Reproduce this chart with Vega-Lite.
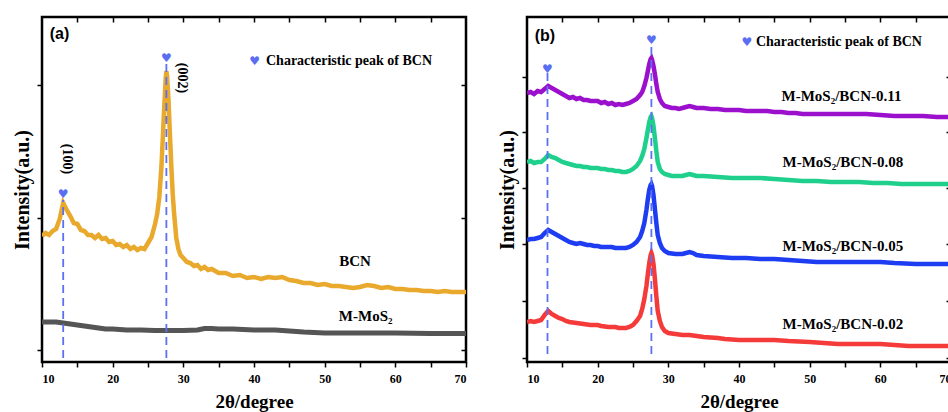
{
  "$schema": "https://vega.github.io/schema/vega-lite/v6.json",
  "bounds": "flush",
  "spacing": 61,
  "padding": {"left": 11, "top": 15, "right": 0, "bottom": 0},
  "background": "white",
  "config": {
    "view": {"stroke": "black", "strokeWidth": 2.5},
    "axis": {
      "grid": false, "domain": false, "tickColor": "black", "tickWidth": 1.5,
      "labelFont": "Liberation Serif", "labelFontWeight": "bold", "labelFontSize": 12, "labelColor": "black",
      "titleFont": "Liberation Serif", "titleFontWeight": "bold", "titleFontSize": 20, "titleColor": "black"
    }
  },
  "datasets": {
    "a": [
      {"x":10,"y":126,"s":"BCN"},{"x":10.5,"y":129,"s":"BCN"},{"x":11,"y":127,"s":"BCN"},{"x":11.5,"y":131,"s":"BCN"},{"x":12,"y":133,"s":"BCN"},{"x":12.5,"y":143,"s":"BCN"},{"x":13,"y":159,"s":"BCN"},{"x":13.5,"y":152,"s":"BCN"},{"x":14,"y":146,"s":"BCN"},{"x":14.5,"y":139,"s":"BCN"},{"x":15,"y":138,"s":"BCN"},{"x":15.5,"y":132,"s":"BCN"},{"x":16,"y":131,"s":"BCN"},{"x":16.5,"y":127,"s":"BCN"},{"x":17,"y":127,"s":"BCN"},{"x":17.5,"y":124,"s":"BCN"},{"x":18,"y":127,"s":"BCN"},{"x":18.5,"y":123,"s":"BCN"},{"x":19,"y":124,"s":"BCN"},{"x":19.5,"y":120,"s":"BCN"},{"x":20,"y":121,"s":"BCN"},{"x":20.5,"y":117,"s":"BCN"},{"x":21,"y":118,"s":"BCN"},{"x":21.5,"y":115,"s":"BCN"},{"x":22,"y":117,"s":"BCN"},{"x":22.5,"y":113,"s":"BCN"},{"x":23,"y":115,"s":"BCN"},{"x":23.5,"y":112,"s":"BCN"},{"x":24,"y":114,"s":"BCN"},{"x":24.5,"y":113,"s":"BCN"},{"x":25,"y":119,"s":"BCN"},{"x":25.5,"y":125,"s":"BCN"},{"x":26,"y":138,"s":"BCN"},{"x":26.3,"y":148,"s":"BCN"},{"x":26.6,"y":165,"s":"BCN"},{"x":26.9,"y":195,"s":"BCN"},{"x":27.1,"y":225,"s":"BCN"},{"x":27.3,"y":255,"s":"BCN"},{"x":27.5,"y":283,"s":"BCN"},{"x":27.6,"y":291,"s":"BCN"},{"x":27.7,"y":286,"s":"BCN"},{"x":27.9,"y":262,"s":"BCN"},{"x":28.1,"y":228,"s":"BCN"},{"x":28.3,"y":196,"s":"BCN"},{"x":28.5,"y":168,"s":"BCN"},{"x":28.7,"y":148,"s":"BCN"},{"x":29,"y":124,"s":"BCN"},{"x":29.3,"y":113,"s":"BCN"},{"x":29.6,"y":107,"s":"BCN"},{"x":30,"y":104,"s":"BCN"},{"x":30.5,"y":100,"s":"BCN"},{"x":31,"y":99,"s":"BCN"},{"x":31.5,"y":96,"s":"BCN"},{"x":32,"y":97,"s":"BCN"},{"x":32.5,"y":93,"s":"BCN"},{"x":33,"y":95,"s":"BCN"},{"x":33.5,"y":92,"s":"BCN"},{"x":34,"y":93,"s":"BCN"},{"x":35,"y":89,"s":"BCN"},{"x":36,"y":89,"s":"BCN"},{"x":37,"y":86,"s":"BCN"},{"x":38,"y":87,"s":"BCN"},{"x":39,"y":84,"s":"BCN"},{"x":40,"y":85,"s":"BCN"},{"x":41,"y":83,"s":"BCN"},{"x":42,"y":85,"s":"BCN"},{"x":43,"y":84,"s":"BCN"},{"x":44,"y":85,"s":"BCN"},{"x":45,"y":82,"s":"BCN"},{"x":46,"y":81,"s":"BCN"},{"x":47,"y":79,"s":"BCN"},{"x":48,"y":79,"s":"BCN"},{"x":49,"y":77,"s":"BCN"},{"x":50,"y":78,"s":"BCN"},{"x":51,"y":76,"s":"BCN"},{"x":52,"y":76,"s":"BCN"},{"x":53,"y":75,"s":"BCN"},{"x":54,"y":74,"s":"BCN"},{"x":55,"y":75,"s":"BCN"},{"x":56,"y":77,"s":"BCN"},{"x":57,"y":76,"s":"BCN"},{"x":58,"y":74,"s":"BCN"},{"x":59,"y":75,"s":"BCN"},{"x":60,"y":73,"s":"BCN"},{"x":61,"y":73,"s":"BCN"},{"x":62,"y":72,"s":"BCN"},{"x":63,"y":72,"s":"BCN"},{"x":64,"y":71,"s":"BCN"},{"x":65,"y":71,"s":"BCN"},{"x":66,"y":70,"s":"BCN"},{"x":67,"y":71,"s":"BCN"},{"x":68,"y":70,"s":"BCN"},{"x":69,"y":70,"s":"BCN"},{"x":70,"y":70,"s":"BCN"},
      {"x":10,"y":40,"s":"M"},{"x":11,"y":40,"s":"M"},{"x":12,"y":40,"s":"M"},{"x":13,"y":39,"s":"M"},{"x":14,"y":38,"s":"M"},{"x":15,"y":37,"s":"M"},{"x":16,"y":36,"s":"M"},{"x":17,"y":35,"s":"M"},{"x":18,"y":34,"s":"M"},{"x":19,"y":33,"s":"M"},{"x":20,"y":33,"s":"M"},{"x":22,"y":32,"s":"M"},{"x":24,"y":32,"s":"M"},{"x":26,"y":31.5,"s":"M"},{"x":28,"y":31.5,"s":"M"},{"x":30,"y":31.5,"s":"M"},{"x":32,"y":32,"s":"M"},{"x":33,"y":33.5,"s":"M"},{"x":34,"y":33.5,"s":"M"},{"x":35,"y":33,"s":"M"},{"x":37,"y":33,"s":"M"},{"x":40,"y":32,"s":"M"},{"x":43,"y":32,"s":"M"},{"x":45,"y":31,"s":"M"},{"x":47,"y":30,"s":"M"},{"x":50,"y":29,"s":"M"},{"x":55,"y":29,"s":"M"},{"x":60,"y":29,"s":"M"},{"x":65,"y":28.5,"s":"M"},{"x":70,"y":28.5,"s":"M"}
    ],
    "b": [
      {"x":10,"y":269,"s":"P"},{"x":10.5,"y":270,"s":"P"},{"x":11,"y":268,"s":"P"},{"x":11.5,"y":271,"s":"P"},{"x":12,"y":270,"s":"P"},{"x":12.5,"y":273,"s":"P"},{"x":13,"y":276,"s":"P"},{"x":13.5,"y":274,"s":"P"},{"x":14,"y":272,"s":"P"},{"x":14.5,"y":270,"s":"P"},{"x":15,"y":268,"s":"P"},{"x":15.5,"y":266,"s":"P"},{"x":16,"y":264,"s":"P"},{"x":16.5,"y":265,"s":"P"},{"x":17,"y":263,"s":"P"},{"x":17.5,"y":264,"s":"P"},{"x":18,"y":262,"s":"P"},{"x":18.5,"y":262,"s":"P"},{"x":19,"y":261,"s":"P"},{"x":19.5,"y":261,"s":"P"},{"x":20,"y":261,"s":"P"},{"x":20.5,"y":259,"s":"P"},{"x":21,"y":260,"s":"P"},{"x":21.5,"y":258,"s":"P"},{"x":22,"y":259,"s":"P"},{"x":22.5,"y":257,"s":"P"},{"x":23,"y":258,"s":"P"},{"x":23.5,"y":257,"s":"P"},{"x":24,"y":258,"s":"P"},{"x":24.5,"y":259,"s":"P"},{"x":25,"y":261,"s":"P"},{"x":25.5,"y":263,"s":"P"},{"x":26,"y":267,"s":"P"},{"x":26.3,"y":270,"s":"P"},{"x":26.6,"y":276,"s":"P"},{"x":26.9,"y":284,"s":"P"},{"x":27.1,"y":291,"s":"P"},{"x":27.3,"y":298,"s":"P"},{"x":27.5,"y":303,"s":"P"},{"x":27.6,"y":304,"s":"P"},{"x":27.7,"y":302,"s":"P"},{"x":27.9,"y":296,"s":"P"},{"x":28.1,"y":288,"s":"P"},{"x":28.3,"y":278,"s":"P"},{"x":28.5,"y":270,"s":"P"},{"x":28.8,"y":263,"s":"P"},{"x":29.1,"y":259,"s":"P"},{"x":29.5,"y":256,"s":"P"},{"x":30,"y":255,"s":"P"},{"x":30.5,"y":254,"s":"P"},{"x":31,"y":254,"s":"P"},{"x":31.5,"y":253,"s":"P"},{"x":32,"y":254,"s":"P"},{"x":32.5,"y":255,"s":"P"},{"x":33,"y":256,"s":"P"},{"x":33.5,"y":255,"s":"P"},{"x":34,"y":254,"s":"P"},{"x":35,"y":254,"s":"P"},{"x":36,"y":253,"s":"P"},{"x":37,"y":253,"s":"P"},{"x":38,"y":252,"s":"P"},{"x":39,"y":252,"s":"P"},{"x":40,"y":252,"s":"P"},{"x":41,"y":251,"s":"P"},{"x":42,"y":251,"s":"P"},{"x":43,"y":251,"s":"P"},{"x":44,"y":251,"s":"P"},{"x":45,"y":250,"s":"P"},{"x":46,"y":250,"s":"P"},{"x":47,"y":249,"s":"P"},{"x":48,"y":249,"s":"P"},{"x":49,"y":248,"s":"P"},{"x":50,"y":248,"s":"P"},{"x":52,"y":248,"s":"P"},{"x":54,"y":248,"s":"P"},{"x":56,"y":248,"s":"P"},{"x":58,"y":248,"s":"P"},{"x":60,"y":247,"s":"P"},{"x":62,"y":246,"s":"P"},{"x":64,"y":246,"s":"P"},{"x":66,"y":246,"s":"P"},{"x":68,"y":245,"s":"P"},{"x":70,"y":245,"s":"P"},
      {"x":10,"y":200,"s":"G"},{"x":10.5,"y":201,"s":"G"},{"x":11,"y":199,"s":"G"},{"x":11.5,"y":200,"s":"G"},{"x":12,"y":200,"s":"G"},{"x":12.5,"y":203,"s":"G"},{"x":13,"y":207,"s":"G"},{"x":13.5,"y":205,"s":"G"},{"x":14,"y":204,"s":"G"},{"x":14.5,"y":202,"s":"G"},{"x":15,"y":200,"s":"G"},{"x":15.5,"y":199,"s":"G"},{"x":16,"y":198,"s":"G"},{"x":16.5,"y":197,"s":"G"},{"x":17,"y":196,"s":"G"},{"x":17.5,"y":196,"s":"G"},{"x":18,"y":195,"s":"G"},{"x":18.5,"y":195,"s":"G"},{"x":19,"y":194,"s":"G"},{"x":19.5,"y":194,"s":"G"},{"x":20,"y":194,"s":"G"},{"x":20.5,"y":193,"s":"G"},{"x":21,"y":193,"s":"G"},{"x":21.5,"y":192,"s":"G"},{"x":22,"y":192,"s":"G"},{"x":22.5,"y":191,"s":"G"},{"x":23,"y":191,"s":"G"},{"x":23.5,"y":190,"s":"G"},{"x":24,"y":190,"s":"G"},{"x":24.5,"y":191,"s":"G"},{"x":25,"y":193,"s":"G"},{"x":25.5,"y":196,"s":"G"},{"x":26,"y":201,"s":"G"},{"x":26.3,"y":206,"s":"G"},{"x":26.6,"y":213,"s":"G"},{"x":26.9,"y":224,"s":"G"},{"x":27.1,"y":232,"s":"G"},{"x":27.3,"y":240,"s":"G"},{"x":27.5,"y":245,"s":"G"},{"x":27.6,"y":246,"s":"G"},{"x":27.7,"y":244,"s":"G"},{"x":27.9,"y":236,"s":"G"},{"x":28.1,"y":224,"s":"G"},{"x":28.3,"y":211,"s":"G"},{"x":28.5,"y":200,"s":"G"},{"x":28.8,"y":193,"s":"G"},{"x":29.1,"y":190,"s":"G"},{"x":29.5,"y":188,"s":"G"},{"x":30,"y":187,"s":"G"},{"x":30.5,"y":186,"s":"G"},{"x":31,"y":186,"s":"G"},{"x":32,"y":186,"s":"G"},{"x":32.5,"y":187,"s":"G"},{"x":33,"y":188,"s":"G"},{"x":33.5,"y":187,"s":"G"},{"x":34,"y":186,"s":"G"},{"x":35,"y":186,"s":"G"},{"x":37,"y":185,"s":"G"},{"x":39,"y":184,"s":"G"},{"x":41,"y":184,"s":"G"},{"x":43,"y":184,"s":"G"},{"x":45,"y":183,"s":"G"},{"x":47,"y":182,"s":"G"},{"x":49,"y":181,"s":"G"},{"x":51,"y":181,"s":"G"},{"x":53,"y":180,"s":"G"},{"x":55,"y":180,"s":"G"},{"x":57,"y":180,"s":"G"},{"x":59,"y":179,"s":"G"},{"x":61,"y":179,"s":"G"},{"x":63,"y":178,"s":"G"},{"x":65,"y":178,"s":"G"},{"x":67,"y":178,"s":"G"},{"x":70,"y":178,"s":"G"},
      {"x":10,"y":122,"s":"B"},{"x":10.5,"y":123,"s":"B"},{"x":11,"y":123,"s":"B"},{"x":11.5,"y":124,"s":"B"},{"x":12,"y":125,"s":"B"},{"x":12.5,"y":129,"s":"B"},{"x":13,"y":132,"s":"B"},{"x":13.5,"y":130,"s":"B"},{"x":14,"y":128,"s":"B"},{"x":14.5,"y":126,"s":"B"},{"x":15,"y":124,"s":"B"},{"x":15.5,"y":122,"s":"B"},{"x":16,"y":120,"s":"B"},{"x":16.5,"y":119,"s":"B"},{"x":17,"y":118,"s":"B"},{"x":17.5,"y":119,"s":"B"},{"x":18,"y":118,"s":"B"},{"x":18.5,"y":117,"s":"B"},{"x":19,"y":117,"s":"B"},{"x":19.5,"y":116,"s":"B"},{"x":20,"y":116,"s":"B"},{"x":20.5,"y":115,"s":"B"},{"x":21,"y":115,"s":"B"},{"x":22,"y":115,"s":"B"},{"x":22.5,"y":114,"s":"B"},{"x":23,"y":114,"s":"B"},{"x":24,"y":114,"s":"B"},{"x":24.5,"y":115,"s":"B"},{"x":25,"y":117,"s":"B"},{"x":25.5,"y":120,"s":"B"},{"x":26,"y":125,"s":"B"},{"x":26.3,"y":131,"s":"B"},{"x":26.6,"y":139,"s":"B"},{"x":26.9,"y":152,"s":"B"},{"x":27.1,"y":163,"s":"B"},{"x":27.3,"y":172,"s":"B"},{"x":27.5,"y":177,"s":"B"},{"x":27.6,"y":178,"s":"B"},{"x":27.7,"y":176,"s":"B"},{"x":27.9,"y":167,"s":"B"},{"x":28.1,"y":153,"s":"B"},{"x":28.3,"y":139,"s":"B"},{"x":28.5,"y":127,"s":"B"},{"x":28.8,"y":119,"s":"B"},{"x":29.1,"y":114,"s":"B"},{"x":29.5,"y":111,"s":"B"},{"x":30,"y":109,"s":"B"},{"x":31,"y":108,"s":"B"},{"x":32,"y":108,"s":"B"},{"x":32.5,"y":109,"s":"B"},{"x":33,"y":110,"s":"B"},{"x":33.5,"y":109,"s":"B"},{"x":34,"y":107,"s":"B"},{"x":35,"y":106,"s":"B"},{"x":37,"y":105,"s":"B"},{"x":39,"y":104,"s":"B"},{"x":41,"y":104,"s":"B"},{"x":43,"y":103,"s":"B"},{"x":45,"y":103,"s":"B"},{"x":47,"y":102,"s":"B"},{"x":49,"y":101,"s":"B"},{"x":51,"y":100,"s":"B"},{"x":55,"y":100,"s":"B"},{"x":60,"y":100,"s":"B"},{"x":62,"y":99,"s":"B"},{"x":65,"y":98,"s":"B"},{"x":70,"y":98,"s":"B"},
      {"x":10,"y":40,"s":"R"},{"x":10.5,"y":41,"s":"R"},{"x":11,"y":40,"s":"R"},{"x":11.5,"y":41,"s":"R"},{"x":12,"y":42,"s":"R"},{"x":12.5,"y":47,"s":"R"},{"x":13,"y":51,"s":"R"},{"x":13.5,"y":48,"s":"R"},{"x":14,"y":46,"s":"R"},{"x":14.5,"y":44,"s":"R"},{"x":15,"y":43,"s":"R"},{"x":15.5,"y":41,"s":"R"},{"x":16,"y":40,"s":"R"},{"x":17,"y":39,"s":"R"},{"x":18,"y":38,"s":"R"},{"x":19,"y":37,"s":"R"},{"x":20,"y":37,"s":"R"},{"x":20.5,"y":36,"s":"R"},{"x":21.5,"y":35,"s":"R"},{"x":22.5,"y":35,"s":"R"},{"x":23,"y":34,"s":"R"},{"x":24,"y":34,"s":"R"},{"x":24.5,"y":35,"s":"R"},{"x":25,"y":37,"s":"R"},{"x":25.5,"y":41,"s":"R"},{"x":26,"y":46,"s":"R"},{"x":26.3,"y":53,"s":"R"},{"x":26.6,"y":63,"s":"R"},{"x":26.9,"y":76,"s":"R"},{"x":27.1,"y":88,"s":"R"},{"x":27.3,"y":99,"s":"R"},{"x":27.5,"y":107,"s":"R"},{"x":27.6,"y":109,"s":"R"},{"x":27.7,"y":107,"s":"R"},{"x":27.9,"y":98,"s":"R"},{"x":28.1,"y":83,"s":"R"},{"x":28.3,"y":66,"s":"R"},{"x":28.5,"y":51,"s":"R"},{"x":28.8,"y":41,"s":"R"},{"x":29.1,"y":35,"s":"R"},{"x":29.5,"y":31,"s":"R"},{"x":30,"y":29,"s":"R"},{"x":31,"y":28,"s":"R"},{"x":32,"y":27,"s":"R"},{"x":33,"y":27,"s":"R"},{"x":34,"y":26,"s":"R"},{"x":35,"y":25,"s":"R"},{"x":37,"y":24,"s":"R"},{"x":38,"y":23,"s":"R"},{"x":40,"y":22,"s":"R"},{"x":45,"y":22,"s":"R"},{"x":47,"y":21,"s":"R"},{"x":50,"y":20,"s":"R"},{"x":52,"y":19,"s":"R"},{"x":54,"y":18,"s":"R"},{"x":60,"y":18,"s":"R"},{"x":62,"y":17,"s":"R"},{"x":64,"y":16,"s":"R"},{"x":70,"y":16,"s":"R"}
    ],
    "ra": [{"x":13,"y":4,"y2":162},{"x":27.6,"y":4,"y2":301}],
    "rb": [{"x":12.9,"y":8,"y2":289},{"x":27.6,"y":8,"y2":318}],
    "ta": [
      {"x":13,"y":168,"t":"♥","k":"h"},{"x":27.6,"y":304,"t":"♥","k":"h"},{"x":40.1,"y":301,"t":"♥","k":"h"},
      {"x":41.7,"y":301,"t":"Characteristic peak of BCN","k":"leg"},
      {"x":13.6,"y":203,"t":"(100)","k":"rot"},{"x":29.8,"y":284,"t":"(002)","k":"rot"},
      {"x":54.3,"y":101,"t":"BCN","k":"lab"},{"x":55.8,"y":46,"t":"M-MoS₂","k":"lab"},
      {"x":11.1,"y":328,"t":"(a)","k":"p"}
    ],
    "tb": [
      {"x":12.9,"y":293,"t":"♥","k":"h"},{"x":27.6,"y":322,"t":"♥","k":"h"},{"x":41.1,"y":320,"t":"♥","k":"h"},
      {"x":42.4,"y":320,"t":"Characteristic peak of BCN","k":"leg"},
      {"x":54.5,"y":266,"t":"M-MoS₂/BCN-0.11","k":"lab"},{"x":54.7,"y":200,"t":"M-MoS₂/BCN-0.08","k":"lab"},
      {"x":54.7,"y":116,"t":"M-MoS₂/BCN-0.05","k":"lab"},{"x":54.7,"y":38,"t":"M-MoS₂/BCN-0.02","k":"lab"},
      {"x":11.1,"y":326,"t":"(b)","k":"p"}
    ]
  },
  "hconcat": [
    {
      "width": 424, "height": 345,
      "resolve": {"axis": {"x": "independent", "y": "independent"}},
      "layer": [
        {
          "data": {"name": "a"},
          "transform": [{"filter": "datum.s === 'BCN'"}],
          "mark": {"type": "line", "strokeWidth": 4.5, "color": "#E8A92C", "clip": true},
          "encoding": {
            "x": {"field": "x", "type": "quantitative", "scale": {"domain": [10, 70], "nice": false, "zero": false},
              "axis": {"orient": "bottom", "values": [10,15,20,25,30,35,40,45,50,55,60,65,70], "labelExpr": "datum.value % 10 === 0 ? datum.label : ''", "tickSize": 5, "labelPadding": 6, "title": "2θ/degree", "titleFontSize": 19, "titlePadding": 8}},
            "y": {"field": "y", "type": "quantitative", "scale": {"domain": [0, 345], "nice": false},
              "axis": {"orient": "left", "values": [12, 144, 277], "labels": false, "tickSize": 5, "title": "Intensity(a.u.)", "titlePadding": 4}}
          }
        },
        {
          "data": {"name": "a"},
          "transform": [{"filter": "datum.s === 'M'"}],
          "mark": {"type": "line", "strokeWidth": 5, "color": "#555555", "clip": true},
          "encoding": {
            "x": {"field": "x", "type": "quantitative", "axis": null},
            "y": {"field": "y", "type": "quantitative", "axis": null}
          }
        },
        {
          "data": {"name": "ra"},
          "mark": {"type": "rule", "color": "#5B70F2", "strokeWidth": 1.8, "strokeDash": [8, 5]},
          "encoding": {
            "x": {"field": "x", "type": "quantitative",
              "axis": {"orient": "top", "values": [15,20,25,30,35,40,45,50,55,60,65], "labels": false, "tickSize": -5, "title": null}},
            "y": {"field": "y", "type": "quantitative",
              "axis": {"orient": "right", "values": [12, 144, 277], "labels": false, "tickSize": -5, "title": null}},
            "y2": {"field": "y2"}
          }
        },
        {
          "data": {"name": "ta"},
          "transform": [{"filter": "datum.k === 'h'"}],
          "mark": {"type": "text", "font": "DejaVu Sans", "fontSize": 12, "color": "#5A6EF2", "baseline": "middle"},
          "encoding": {
            "x": {"field": "x", "type": "quantitative", "axis": null},
            "y": {"field": "y", "type": "quantitative", "axis": null},
            "text": {"field": "t"}
          }
        },
        {
          "data": {"name": "ta"},
          "transform": [{"filter": "datum.k === 'leg'"}],
          "mark": {"type": "text", "font": "Liberation Serif", "fontWeight": "bold", "fontSize": 14, "color": "black", "align": "left", "baseline": "middle"},
          "encoding": {
            "x": {"field": "x", "type": "quantitative", "axis": null},
            "y": {"field": "y", "type": "quantitative", "axis": null},
            "text": {"field": "t"}
          }
        },
        {
          "data": {"name": "ta"},
          "transform": [{"filter": "datum.k === 'rot'"}],
          "mark": {"type": "text", "font": "Liberation Serif", "fontWeight": "bold", "fontSize": 14, "color": "black", "align": "center", "baseline": "middle", "angle": 90},
          "encoding": {
            "x": {"field": "x", "type": "quantitative", "axis": null},
            "y": {"field": "y", "type": "quantitative", "axis": null},
            "text": {"field": "t"}
          }
        },
        {
          "data": {"name": "ta"},
          "transform": [{"filter": "datum.k === 'lab'"}],
          "mark": {"type": "text", "font": "Liberation Serif", "fontWeight": "bold", "fontSize": 15, "color": "black", "align": "center", "baseline": "middle"},
          "encoding": {
            "x": {"field": "x", "type": "quantitative", "axis": null},
            "y": {"field": "y", "type": "quantitative", "axis": null},
            "text": {"field": "t"}
          }
        },
        {
          "data": {"name": "ta"},
          "transform": [{"filter": "datum.k === 'p'"}],
          "mark": {"type": "text", "font": "Liberation Sans", "fontWeight": "bold", "fontSize": 16, "color": "black", "align": "left", "baseline": "middle"},
          "encoding": {
            "x": {"field": "x", "type": "quantitative", "axis": null},
            "y": {"field": "y", "type": "quantitative", "axis": null},
            "text": {"field": "t"}
          }
        }
      ]
    },
    {
      "width": 424, "height": 345,
      "resolve": {"axis": {"x": "independent", "y": "independent"}},
      "layer": [
        {
          "data": {"name": "b"},
          "mark": {"type": "line", "strokeWidth": 4.5, "clip": true},
          "encoding": {
            "x": {"field": "x", "type": "quantitative", "scale": {"domain": [10, 70], "nice": false, "zero": false},
              "axis": {"orient": "bottom", "values": [10,15,20,25,30,35,40,45,50,55,60,65,70], "labelExpr": "datum.value % 10 === 0 ? datum.label : ''", "tickSize": 5, "labelPadding": 6, "title": "2θ/degree", "titleFontSize": 19, "titlePadding": 8}},
            "y": {"field": "y", "type": "quantitative", "scale": {"domain": [0, 345], "nice": false},
              "axis": {"orient": "left", "values": [4, 61, 118, 174, 230, 285], "labels": false, "tickSize": 5, "title": "Intensity(a.u.)", "titlePadding": 4}},
            "color": {"field": "s", "type": "nominal", "scale": {"domain": ["P", "G", "B", "R"], "range": ["#9B10CC", "#1FD08C", "#1E3CF2", "#F53A3A"]}, "legend": null}
          }
        },
        {
          "data": {"name": "rb"},
          "mark": {"type": "rule", "color": "#5B70F2", "strokeWidth": 1.8, "strokeDash": [8, 5]},
          "encoding": {
            "x": {"field": "x", "type": "quantitative",
              "axis": {"orient": "top", "values": [15,20,25,30,35,40,45,50,55,60,65], "labels": false, "tickSize": -5, "title": null}},
            "y": {"field": "y", "type": "quantitative",
              "axis": {"orient": "right", "values": [4, 61, 118, 174, 230, 285], "labels": false, "tickSize": -5, "title": null}},
            "y2": {"field": "y2"}
          }
        },
        {
          "data": {"name": "tb"},
          "transform": [{"filter": "datum.k === 'h'"}],
          "mark": {"type": "text", "font": "DejaVu Sans", "fontSize": 12, "color": "#5A6EF2", "baseline": "middle"},
          "encoding": {
            "x": {"field": "x", "type": "quantitative", "axis": null},
            "y": {"field": "y", "type": "quantitative", "axis": null},
            "text": {"field": "t"}
          }
        },
        {
          "data": {"name": "tb"},
          "transform": [{"filter": "datum.k === 'leg'"}],
          "mark": {"type": "text", "font": "Liberation Serif", "fontWeight": "bold", "fontSize": 14, "color": "black", "align": "left", "baseline": "middle"},
          "encoding": {
            "x": {"field": "x", "type": "quantitative", "axis": null},
            "y": {"field": "y", "type": "quantitative", "axis": null},
            "text": {"field": "t"}
          }
        },
        {
          "data": {"name": "tb"},
          "transform": [{"filter": "datum.k === 'lab'"}],
          "mark": {"type": "text", "font": "Liberation Serif", "fontWeight": "bold", "fontSize": 15, "color": "black", "align": "center", "baseline": "middle"},
          "encoding": {
            "x": {"field": "x", "type": "quantitative", "axis": null},
            "y": {"field": "y", "type": "quantitative", "axis": null},
            "text": {"field": "t"}
          }
        },
        {
          "data": {"name": "tb"},
          "transform": [{"filter": "datum.k === 'p'"}],
          "mark": {"type": "text", "font": "Liberation Sans", "fontWeight": "bold", "fontSize": 16, "color": "black", "align": "left", "baseline": "middle"},
          "encoding": {
            "x": {"field": "x", "type": "quantitative", "axis": null},
            "y": {"field": "y", "type": "quantitative", "axis": null},
            "text": {"field": "t"}
          }
        }
      ]
    }
  ]
}
